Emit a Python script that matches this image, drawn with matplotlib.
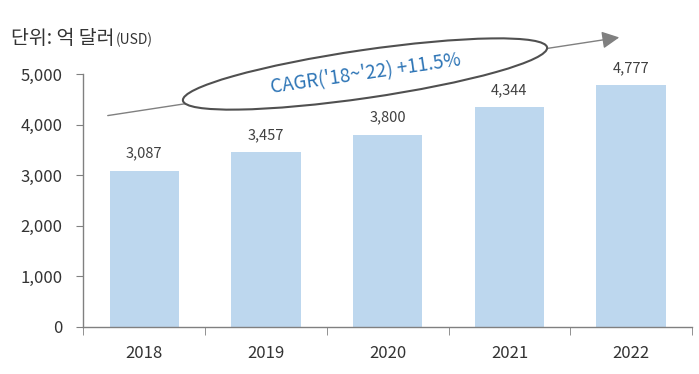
import numpy as np
import matplotlib.pyplot as plt
from matplotlib.patches import Ellipse, FancyArrowPatch

plt.rcParams['font.family'] = ['Noto Sans CJK KR', 'DejaVu Sans']

years = ['2018', '2019', '2020', '2021', '2022']
values = [3087, 3457, 3800, 4344, 4777]
value_labels = ['3,087', '3,457', '3,800', '4,344', '4,777']
yticks = [0, 1000, 2000, 3000, 4000, 5000]
ytick_labels = ['0', '1,000', '2,000', '3,000', '4,000', '5,000']

fig = plt.figure(figsize=(6.99, 3.74), dpi=100)
ax = fig.add_axes([0.1194, 0.1257, 0.8706, 0.6763])

x = np.arange(len(years))
ax.bar(x, values, width=0.57, color='#BDD7EE', zorder=2)

for xi, v, lab in zip(x, values, value_labels):
    ax.text(xi, v + 200, lab, ha='center', va='bottom', fontsize=10.5, color='#404040')

ax.set_xlim(-0.5, len(years) - 0.5)
ax.set_ylim(0, 5000)
ax.set_yticks(yticks)
ax.set_yticklabels(ytick_labels, fontsize=12, color='#333333')
ax.set_xticks(x)
ax.set_xticklabels(years, fontsize=12, color='#333333')
ax.tick_params(axis='x', length=0, pad=13)
ax.tick_params(axis='y', length=5, color='#808080', direction='out', pad=10)
# x-axis ticks between categories
ax.set_xticks(np.arange(-0.5, len(years), 1.0), minor=True)
ax.tick_params(axis='x', which='minor', length=6, color='#808080', direction='out')

for s in ['top', 'right']:
    ax.spines[s].set_visible(False)
for s in ['left', 'bottom']:
    ax.spines[s].set_color('#808080')
    ax.spines[s].set_linewidth(1.0)

# CAGR arrow and ellipse (figure pixel coords)
W, H = 699, 374
def fp(px, py):
    return (px / W, 1 - py / H)

fig.patches.append(FancyArrowPatch(
    fp(105, 116), fp(622, 37), transform=fig.transFigure,
    arrowstyle='-|>,head_length=7,head_width=3.5', color='#808080', lw=1.0,
    mutation_scale=1.5))

ell = Ellipse((365, H - 74), 368, 48, angle=8.3, transform=None,
              facecolor='white', edgecolor='#505050', lw=1.5, zorder=5)
fig.patches.append(ell)

fig.text(366 / W, 1 - 74 / H, "CAGR('18~'22) +11.5%", rotation=8.3,
         rotation_mode='anchor', ha='center', va='center', fontsize=13.5,
         color='#2E75B6', zorder=6)

title = fig.text(11 / W, 1 - 38 / H, '단위: 억 달러', fontsize=14, color='#333333',
                 ha='left', va='center')
bb = title.get_window_extent(renderer=fig.canvas.get_renderer())
fig.text(bb.x1 / W + 0.002, 1 - 40 / H, '(USD)', fontsize=10, color='#333333',
         ha='left', va='center')

fig.savefig('out.png', dpi=100)
